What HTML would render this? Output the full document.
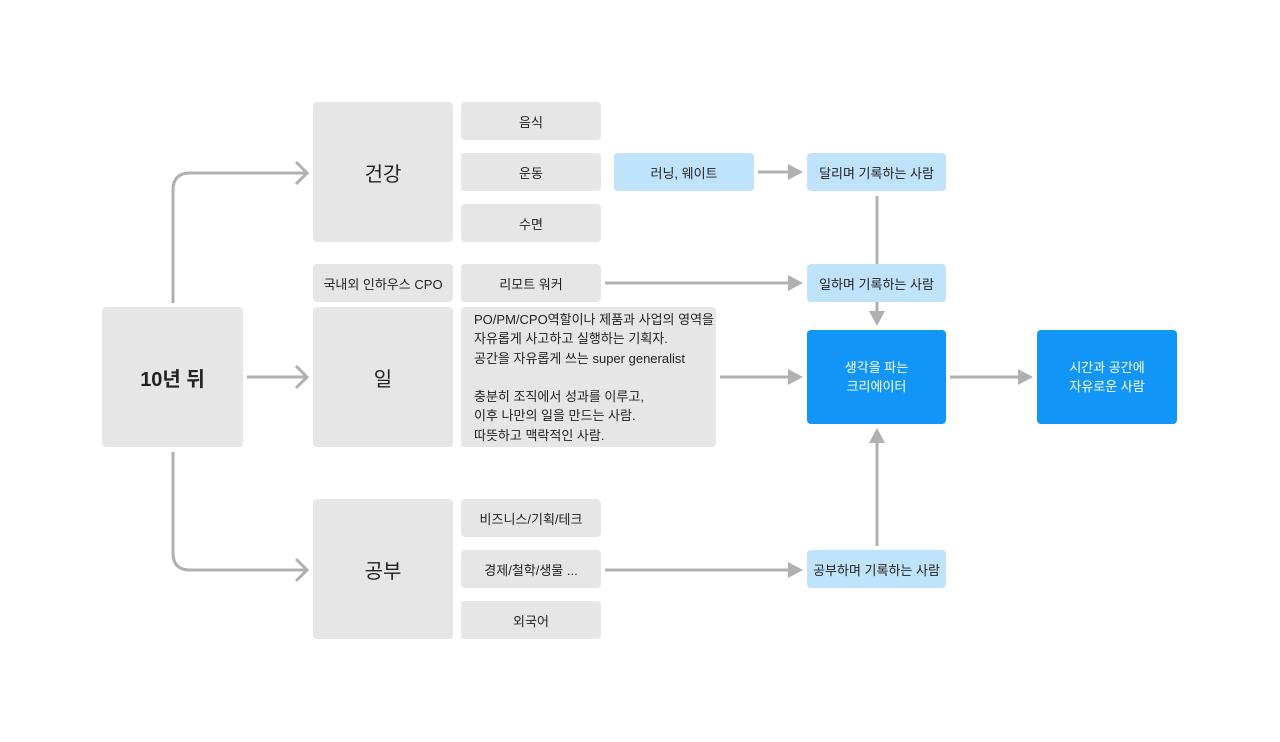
<!DOCTYPE html>
<html><head><meta charset="utf-8"><style>
body{margin:0;width:1280px;height:742px;background:#fff;position:relative;overflow:hidden;font-family:"Liberation Sans","Noto Sans CJK KR",sans-serif;color:#222}
.b{position:absolute;background:#e6e6e6;border-radius:4px;display:flex;align-items:center;justify-content:center;text-align:center;font-size:13px}
.l{background:#bfe3fb}
.d{background:#1196f7;color:#fff;line-height:19px}
.big{font-size:20px}
svg{position:absolute;left:0;top:0}
</style></head><body>
<svg width="1280" height="742">
<g fill="none" stroke="#b0b0b0" stroke-width="3">
<path d="M173 303 V190 Q173 173 190 173 H306"/>
<path d="M173 452 V553 Q173 570 190 570 H306"/>
<path d="M247 377 H306"/>
<path d="M296 162 L307 173 L296 184"/>
<path d="M296 366 L307 377 L296 388"/>
<path d="M296 559 L307 570 L296 581"/>
<path d="M758 172 H790"/>
<path d="M605 283 H790"/>
<path d="M720 377 H790"/>
<path d="M950 377 H1020"/>
<path d="M605 570 H790"/>
<path d="M877 196 V264"/>
<path d="M877 302 V314"/>
<path d="M877 546 V442"/>
</g>
<g fill="#b0b0b0">
<path d="M788 164 L803 172 L788 180Z"/>
<path d="M788 275 L803 283 L788 291Z"/>
<path d="M788 369 L803 377 L788 385Z"/>
<path d="M1018 369 L1033 377 L1018 385Z"/>
<path d="M788 562 L803 570 L788 578Z"/>
<path d="M869 311 L877 326 L885 311Z"/>
<path d="M869 443 L877 428 L885 443Z"/>
</g>
</svg>
<div class="b" style="left:102px;top:307px;width:141px;height:140px;font-size:20px;font-weight:bold">10년 뒤</div>
<div class="b big" style="left:313px;top:102px;width:140px;height:140px">건강</div>
<div class="b big" style="left:313px;top:307px;width:140px;height:140px">일</div>
<div class="b big" style="left:313px;top:499px;width:140px;height:140px">공부</div>
<div class="b" style="left:461px;top:102px;width:140px;height:38px">음식</div>
<div class="b" style="left:461px;top:153px;width:140px;height:38px">운동</div>
<div class="b" style="left:461px;top:204px;width:140px;height:38px">수면</div>
<div class="b" style="left:313px;top:264px;width:140px;height:38px">국내외 인하우스 CPO</div>
<div class="b" style="left:461px;top:264px;width:140px;height:38px">리모트 워커</div>
<div class="b" style="left:461px;top:307px;width:255px;height:140px;align-items:flex-start;justify-content:flex-start;text-align:left;padding:3px 0 0 13px;box-sizing:border-box;line-height:19.3px">PO/PM/CPO역할이나 제품과 사업의 영역을<br>자유롭게 사고하고 실행하는 기획자.<br>공간을 자유롭게 쓰는 super generalist<br><br>충분히 조직에서 성과를 이루고,<br>이후 나만의 일을 만드는 사람.<br>따뜻하고 맥락적인 사람.</div>
<div class="b" style="left:461px;top:499px;width:140px;height:38px">비즈니스/기획/테크</div>
<div class="b" style="left:461px;top:550px;width:140px;height:38px">경제/철학/생물 ...</div>
<div class="b" style="left:461px;top:601px;width:140px;height:38px">외국어</div>
<div class="b l" style="left:614px;top:153px;width:140px;height:38px">러닝, 웨이트</div>
<div class="b l" style="left:807px;top:153px;width:139px;height:38px">달리며 기록하는 사람</div>
<div class="b l" style="left:807px;top:264px;width:139px;height:38px">일하며 기록하는 사람</div>
<div class="b l" style="left:807px;top:550px;width:139px;height:38px">공부하며 기록하는 사람</div>
<div class="b d" style="left:807px;top:330px;width:139px;height:94px">생각을 파는<br>크리에이터</div>
<div class="b d" style="left:1037px;top:330px;width:140px;height:94px">시간과 공간에<br>자유로운 사람</div>
</body></html>
